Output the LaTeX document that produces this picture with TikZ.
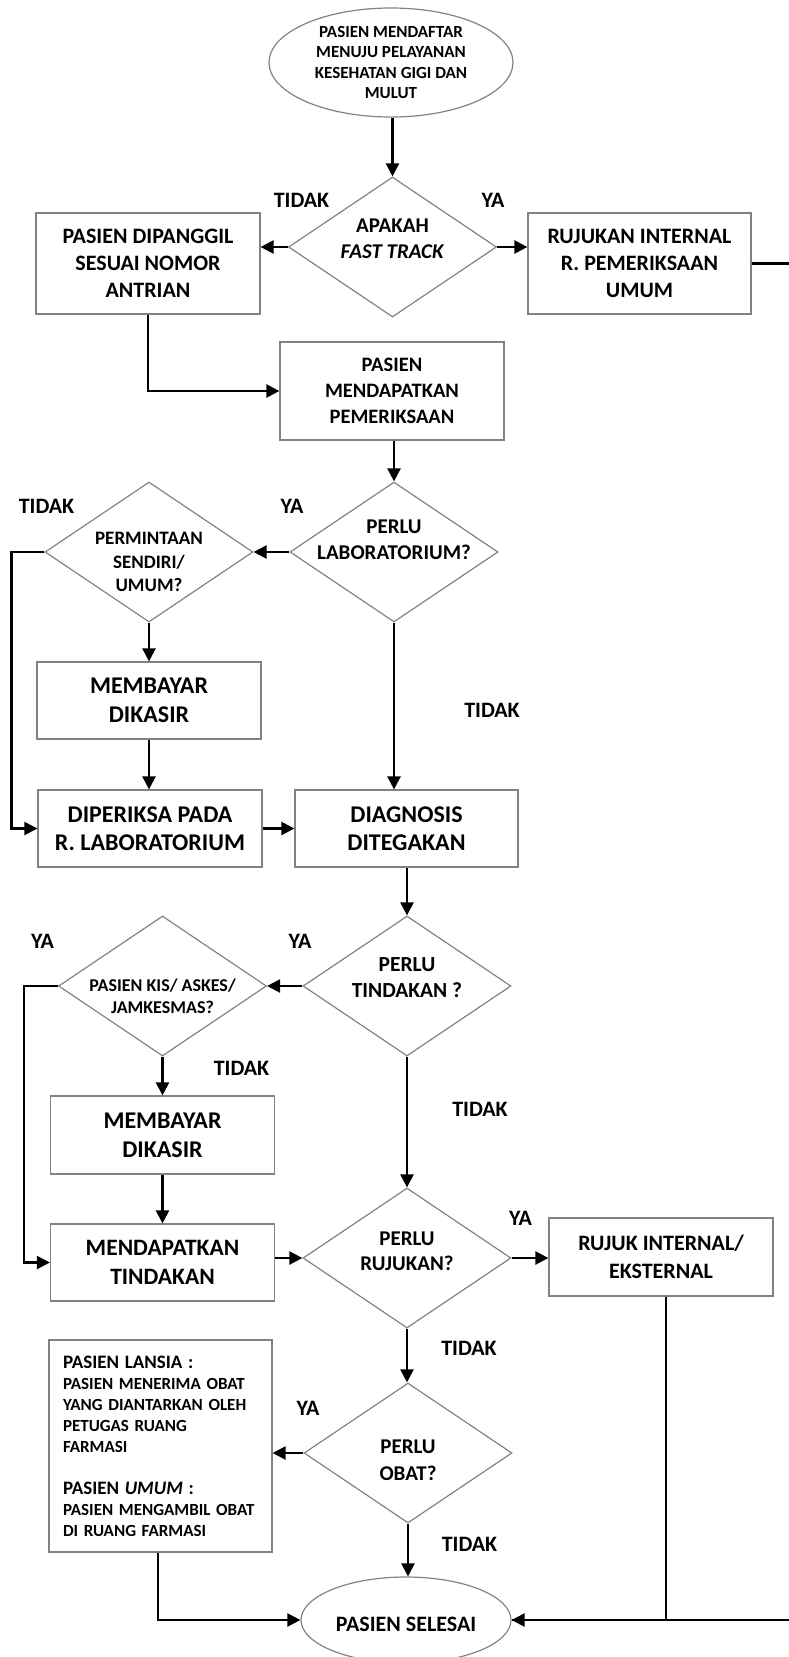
\documentclass[tikz,border=0pt]{standalone}
\usepackage{fontspec}
\setmainfont{Carlito}
\usetikzlibrary{shapes.geometric,arrows.meta}
\definecolor{boxgray}{RGB}{130,130,130}
\newcommand\fsz[2]{\fontsize{#1}{#2}\selectfont\bfseries}
\tikzset{
  conn/.style={line width=2.3pt, -{Triangle[length=13pt,width=13pt]}},
  plain/.style={line width=2.3pt},
  box/.style={draw=boxgray, line width=1.2pt, rectangle, align=center, inner sep=2pt, text=black},
  dia/.style={draw=boxgray, line width=1.2pt, diamond, inner sep=0pt, minimum width=208pt, minimum height=140pt},
  ell/.style={draw=boxgray, line width=1.2pt, ellipse, inner sep=0pt},
  lbl/.style={font=\fsz{22}{26}, anchor=base, inner sep=0pt},
}
\begin{document}
\begin{tikzpicture}[x=1pt,y=-1pt]
\useasboundingbox (0,0) rectangle (789,1657);
\clip (0,0) rectangle (789,1657);
% nodes
\node[ell, minimum width=244pt, minimum height=109pt,
  label={[align=center,font=\fsz{17}{20.5}]center:PASIEN MENDAFTAR\\MENUJU PELAYANAN\\KESEHATAN GIGI DAN\\MULUT}] (start) at (391,62.5) {};
\node[dia, label={[align=center,font=\fsz{21}{26},yshift=8pt]center:APAKAH\\\textit{FAST TRACK}}] (fast) at (392.5,247) {};
\node[box, minimum width=224pt, minimum height=101pt, font=\fsz{22}{27}] (dipanggil) at (148,263.5) {PASIEN DIPANGGIL\\SESUAI NOMOR\\ANTRIAN};
\node[box, minimum width=223pt, minimum height=101pt, font=\fsz{22}{27}] (rujint) at (639.5,263.5) {RUJUKAN INTERNAL\\R. PEMERIKSAAN\\UMUM};
\node[box, minimum width=224pt, minimum height=98pt, font=\fsz{20.5}{26}] (periksa) at (392,391) {PASIEN\\MENDAPATKAN\\PEMERIKSAAN};
\node[dia, label={[align=center,font=\fsz{21}{26.5},yshift=12pt]center:PERLU\\LABORATORIUM?}] (lab) at (394,552) {};
\node[dia, label={[align=center,font=\fsz{19}{23.3},yshift=-10pt]center:PERMINTAAN\\SENDIRI/\\UMUM?}] (perm) at (149,552) {};
\node[box, minimum width=224pt, minimum height=77pt, font=\fsz{24}{28.5}] (bayar1) at (149,700.5) {MEMBAYAR\\DIKASIR};
\node[box, minimum width=224pt, minimum height=77pt, font=\fsz{24}{28.5}] (labor) at (150,828.5) {DIPERIKSA PADA\\R. LABORATORIUM};
\node[box, minimum width=223pt, minimum height=77pt, font=\fsz{24}{28.5}] (diag) at (406.5,828.5) {DIAGNOSIS\\DITEGAKAN};
\node[dia, label={[align=center,font=\fsz{21.5}{26},yshift=8pt]center:PERLU\\TINDAKAN ?}] (tind) at (407,986) {};
\node[dia, label={[align=center,font=\fsz{18}{22},yshift=-10pt]center:PASIEN KIS/ ASKES/\\JAMKESMAS?}] (kis) at (162.5,986) {};
\node[box, minimum width=224pt, minimum height=78pt, font=\fsz{24}{29}] (bayar2) at (162.5,1135) {MEMBAYAR\\DIKASIR};
\node[box, minimum width=224pt, minimum height=77pt, font=\fsz{23.5}{28.5}] (mtind) at (162.5,1262.5) {MENDAPATKAN\\TINDAKAN};
\node[dia, label={[align=center,font=\fsz{21}{25},yshift=7pt]center:PERLU\\RUJUKAN?}] (rujq) at (407,1258) {};
\node[box, minimum width=224pt, minimum height=78pt, font=\fsz{22}{28}] (rujuk) at (661,1257) {RUJUK INTERNAL/\\EKSTERNAL};
\node[dia, label={[align=center,font=\fsz{21}{26.5},yshift=-7pt]center:PERLU\\OBAT?}] (obat) at (408,1453) {};
\node[box, minimum height=212pt, text width=195pt, inner xsep=14pt, align=left, font=\fsz{17}{21}] (farm) at (160.5,1446)
  {{\fsz{19}{21}PASIEN LANSIA :}\\PASIEN MENERIMA OBAT\\YANG DIANTARKAN OLEH\\PETUGAS RUANG\\FARMASI\\[21pt]{\fsz{19}{21}PASIEN \textit{UMUM} :}\\PASIEN MENGAMBIL OBAT\\DI RUANG FARMASI};
\node[ell, minimum width=210pt, minimum height=86pt,
  label={[font=\fsz{22}{26},yshift=-4pt]center:PASIEN SELESAI}] (selesai) at (406,1620) {};
% connectors
\draw[conn] (fast.north |- start.south) -- (fast.north);
\draw[conn] (fast.west) -- (fast.west -| dipanggil.east);
\draw[conn] (fast.east) -- (fast.east -| rujint.west);
\draw[conn] (dipanggil.south) |- (periksa.west);
\draw[conn] (lab.north |- periksa.south) -- (lab.north);
\draw[conn] (lab.west) -- (perm.east);
\draw[conn] (lab.south) -- (lab.south |- diag.north);
\draw[conn] (perm.south) -- (bayar1.north);
\draw[conn] (bayar1.south) -- (bayar1.south |- labor.north);
\draw[conn] (perm.west) -- ++(-33,0) |- (labor.west);
\draw[conn] (labor.east) -- (diag.west);
\draw[conn] (tind.north |- diag.south) -- (tind.north);
\draw[conn] (tind.west) -- (kis.east);
\draw[conn] (kis.south) -- (bayar2.north);
\draw[conn] (bayar2.south) -- (mtind.north);
\draw[conn] (kis.west) -- ++(-34,0) |- (mtind.west);
\draw[conn] (tind.south) -- (rujq.north);
\draw[conn] (mtind.east |- rujq.west) -- (rujq.west);
\draw[conn] (rujq.east) -- (rujq.east -| rujuk.west);
\draw[conn] (rujq.south) -- (rujq.south |- obat.north);
\draw[conn] (obat.west) -- (obat.west -| farm.east);
\draw[conn] (obat.south) -- (obat.south |- selesai.north);
\draw[conn] ([xshift=-2.5pt]farm.south) |- (selesai.west);
\draw[plain] ([xshift=5pt]rujuk.south) |- (selesai.east);
\draw[conn] (rujint.east) -- ++(60,0) |- (selesai.east);
% branch labels
\node[lbl] (l1) at (301.5,207) {TIDAK};
\node[lbl] (l2) at (493,207) {YA};
\node[lbl] (l3) at (46.5,513) {TIDAK};
\node[lbl] (l4) at (292,513) {YA};
\node[lbl] (l5) at (492,717) {TIDAK};
\node[lbl] (l6) at (42.5,948) {YA};
\node[lbl] (l7) at (300,948) {YA};
\node[lbl] (l8) at (241.5,1075) {TIDAK};
\node[lbl] (l9) at (480,1116) {TIDAK};
\node[lbl] (l10) at (520.5,1225) {YA};
\node[lbl] (l11) at (469,1355) {TIDAK};
\node[lbl] (l12) at (308,1415) {YA};
\node[lbl] (l13) at (469.5,1551) {TIDAK};
\end{tikzpicture}
\end{document}
